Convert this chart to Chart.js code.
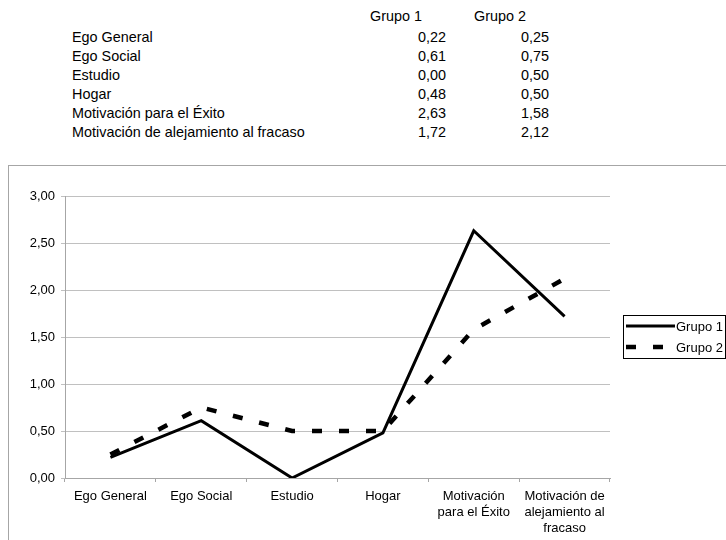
<!DOCTYPE html>
<html>
<head>
<meta charset="utf-8">
<script src="https://cdn.jsdelivr.net/npm/chart.js@4/dist/chart.umd.min.js"></script>
<style>
  html, body { margin: 0; padding: 0; background: #fff; }
  body { width: 726px; height: 540px; position: relative; overflow: hidden; font-family: "Liberation Sans", Arial, sans-serif; color: #000; }
  .t { position: absolute; font-size: 14.4px; line-height: 19px; white-space: nowrap; }
  .r { text-align: right; width: 80px; }
  #box { position: absolute; left: 8px; top: 165px; width: 730px; height: 385px; border: 1px solid #a6a6a6; box-sizing: border-box; }
  #c { position: absolute; left: 0; top: 0; }
</style>
</head>
<body>
<div id="table"></div>
<div id="box"><canvas id="c" width="718" height="375" style="width:718px;height:375px"></canvas></div>
<script>
const categories = ["Ego General", "Ego Social", "Estudio", "Hogar", "Motivación para el Éxito", "Motivación de alejamiento al fracaso"];
const axisLabels = [["Ego General"], ["Ego Social"], ["Estudio"], ["Hogar"], ["Motivación", "para el Éxito"], ["Motivación de", "alejamiento al", "fracaso"]];
const seriesNames = ["Grupo 1", "Grupo 2"];
const grupo1 = [0.22, 0.61, 0.00, 0.48, 2.63, 1.72];
const grupo2 = [0.25, 0.75, 0.50, 0.50, 1.58, 2.12];
const yTicks = [0, 0.5, 1, 1.5, 2, 2.5, 3];

const fmt = v => v.toFixed(2).replace('.', ',');

// table
const tbl = document.getElementById('table');
function addText(txt, x, y, cls) {
  const d = document.createElement('div');
  d.className = 't' + (cls ? ' ' + cls : '');
  d.textContent = txt;
  d.style.left = x + 'px';
  d.style.top = y + 'px';
  tbl.appendChild(d);
}
addText(seriesNames[0], 370, 7);
addText(seriesNames[1], 474, 7);
categories.forEach((c, i) => {
  const y = 28 + i * 19;
  addText(c, 72, y);
  addText(fmt(grupo1[i]), 366, y, 'r');
  addText(fmt(grupo2[i]), 469, y, 'r');
});

const FONT = "'Liberation Sans', Arial, sans-serif";

const legendPlugin = {
  id: 'boxLegend',
  afterDraw(chart) {
    const ctx = chart.ctx;
    ctx.save();
    ctx.strokeStyle = '#000';
    ctx.lineWidth = 1;
    ctx.strokeRect(614.5, 149.5, 102, 43);
    const ds = chart.data.datasets;
    const rows = [160, 181];
    ds.forEach((d, i) => {
      ctx.beginPath();
      ctx.strokeStyle = d.borderColor;
      ctx.lineWidth = d.borderWidth;
      ctx.setLineDash(d.borderDash || []);
      ctx.moveTo(617, rows[i]);
      ctx.lineTo(666, rows[i]);
      ctx.stroke();
      ctx.setLineDash([]);
      ctx.fillStyle = '#000';
      ctx.font = "13px " + FONT;
      ctx.textBaseline = 'middle';
      ctx.fillText(d.label, 667, rows[i] + 1);
    });
    ctx.restore();
  }
};

new Chart(document.getElementById('c'), {
  type: 'line',
  data: {
    labels: axisLabels,
    datasets: [
      { label: seriesNames[0], data: grupo1, borderColor: '#000', borderWidth: 3, pointRadius: 0, tension: 0, fill: false, borderJoinStyle: 'miter' },
      { label: seriesNames[1], data: grupo2, borderColor: '#000', borderWidth: 4.5, borderDash: [10, 17], borderCapStyle: 'butt', pointRadius: 0, tension: 0, fill: false }
    ]
  },
  options: {
    responsive: false,
    animation: false,
    devicePixelRatio: 1,
    layout: { padding: { top: 30, right: 117, left: 0, bottom: 0 } },
    plugins: { legend: { display: false }, tooltip: { enabled: false } },
    scales: {
      x: {
        offset: true,
        grid: { offset: true, drawOnChartArea: false, drawTicks: true, tickLength: 4, color: '#a6a6a6' },
        border: { color: '#a6a6a6' },
        ticks: { color: '#000', font: { family: FONT, size: 13 }, maxRotation: 0, autoSkip: false, padding: 7 },
        afterFit(s) { s.height = 63; }
      },
      y: {
        min: 0, max: 3,
        afterBuildTicks(s) { s.ticks = yTicks.map(v => ({ value: v })); },
        grid: { color: '#c0c0c0', tickLength: 4, drawTicks: true },
        border: { color: '#a6a6a6' },
        ticks: { color: '#000', font: { family: FONT, size: 13 }, padding: 6, callback: v => fmt(v) },
        afterFit(s) { s.width = 56; }
      }
    }
  },
  plugins: [legendPlugin]
});
</script>
</body>
</html>
